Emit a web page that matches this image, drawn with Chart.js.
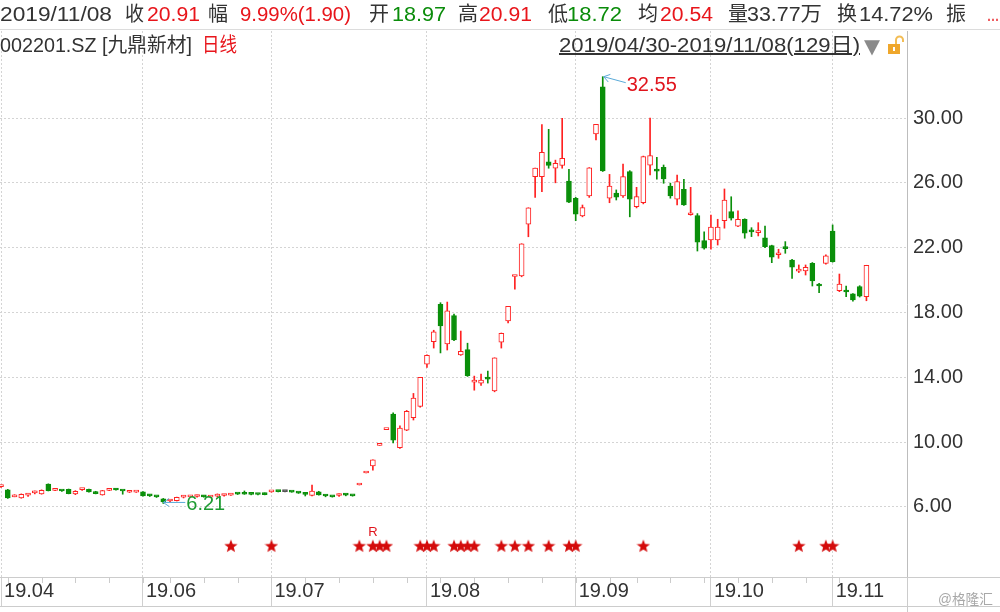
<!DOCTYPE html>
<html>
<head>
<meta charset="utf-8">
<script src="https://cdn.jsdelivr.net/npm/chart.js@4.4.1/dist/chart.umd.min.js"></script>
<style>
  body { margin: 0; background: #fff; }
  #wrap { position: relative; width: 1000px; height: 612px; overflow: hidden;
          font-family: "Liberation Sans", "Noto Sans CJK SC", sans-serif; }
  #wrap canvas { position: absolute; left: 0; top: 0; }
  .t { position: absolute; font-size: 20px; line-height: 20px; white-space: nowrap; color: #333;
       transform-origin: 0 50%; }
  .r { color: #e8151b; }
  .g { color: #0a8c0a; }
  #sep { position: absolute; left: 0; top: 29px; width: 1000px; height: 1px; background: #dcdcdc; }
</style>
</head>
<body>
<div id="wrap">
  <canvas id="c" width="1000" height="612"></canvas>
  <div id="sep"></div>

  <!-- 第一行：当日行情 -->
  <div class="t" style="left:0;top:4px" data-w="112">2019/11/08</div>
  <div class="t" style="left:125px;top:4px" data-w="19">收</div>
  <div class="t r" style="left:147px;top:4px" data-w="53">20.91</div>
  <div class="t" style="left:208px;top:4px" data-w="20">幅</div>
  <div class="t r" style="left:240px;top:4px" data-w="111">9.99%(1.90)</div>
  <div class="t" style="left:369px;top:4px" data-w="20">开</div>
  <div class="t g" style="left:392px;top:4px" data-w="54">18.97</div>
  <div class="t" style="left:458px;top:4px" data-w="20">高</div>
  <div class="t r" style="left:479px;top:4px" data-w="53">20.91</div>
  <div class="t" style="left:548px;top:4px" data-w="20">低</div>
  <div class="t g" style="left:567px;top:4px" data-w="55">18.72</div>
  <div class="t" style="left:638px;top:4px" data-w="20">均</div>
  <div class="t r" style="left:660px;top:4px" data-w="53">20.54</div>
  <div class="t" style="left:728px;top:4px" data-w="20">量</div>
  <div class="t" style="left:747px;top:4px" data-w="75">33.77万</div>
  <div class="t" style="left:837px;top:4px" data-w="20">换</div>
  <div class="t" style="left:859px;top:4px" data-w="74">14.72%</div>
  <div class="t" style="left:946px;top:4px" data-w="20">振</div>
  <div class="t r" style="left:987px;top:4px" data-w="12">...</div>

  <!-- 第二行：代码 + 区间 -->
  <div class="t" style="left:0;top:35px" data-w="192">002201.SZ [九鼎新材]</div>
  <div class="t r" style="left:202px;top:35px" data-w="35">日线</div>
  <div class="t" style="left:559px;top:35px;text-decoration:underline" data-w="301">2019/04/30-2019/11/08(129日)</div>
  <div class="t" style="left:864px;top:36px;color:#8a8a8a;font-family:'DejaVu Sans'" data-w="16">▼</div>
  <svg style="position:absolute;left:886px;top:33px" width="18" height="22">
    <path d="M10 11 V7 a3.5 3.5 0 0 1 7 0 V9" fill="none" stroke="#f3bd55" stroke-width="2"/>
    <rect x="2" y="11" width="12" height="10" fill="#efa72c"/>
    <rect x="7" y="14" width="2" height="4" fill="#fff"/>
  </svg>

  <div class="t" style="left:938px;top:592px;font-size:14px;line-height:14px;color:#a8a8a8" data-w="55">@格隆汇</div>
</div>

<script>
// 日K数据 2019/04/30 - 2019/11/08 (129 个交易日)
const opens = [
  7.25, 7.05, 6.62, 6.55, 6.72, 6.86, 6.80, 7.40, 7.02, 7.00,
  7.08, 6.80, 7.06, 7.08, 6.94, 6.74, 7.02, 7.08, 7.00, 6.90,
  6.91, 6.92, 6.70, 6.64, 6.50, 6.36, 6.38, 6.60, 6.62, 6.64,
  6.66, 6.60, 6.66, 6.70, 6.72, 6.82, 6.80, 6.79, 6.78, 6.76,
  6.92, 6.96, 6.94, 6.93, 6.88, 6.80, 6.70, 6.92, 6.70, 6.64,
  6.70, 6.74, 6.70, 7.35, 8.09, 8.52, 9.79, 10.77, 11.73, 9.65,
  10.74, 11.50, 12.20, 14.80, 16.20, 18.50, 16.05, 17.80, 15.37, 15.70,
  13.70, 13.64, 13.95, 13.15, 16.17, 17.47, 20.22, 20.25, 23.44, 26.38,
  26.38, 27.30, 26.90, 27.08, 26.11, 25.04, 23.95, 25.19, 29.02, 31.93,
  25.05, 25.36, 25.19, 26.69, 24.53, 24.78, 27.09, 26.80, 26.96, 25.80,
  24.99, 25.60, 24.03, 23.98, 22.43, 22.48, 22.48, 23.66, 24.22, 23.33,
  23.75, 23.02, 22.93, 22.61, 22.12, 21.56, 22.00, 21.23, 20.55, 20.56,
  21.03, 19.68, 21.03, 23.02, 19.35, 19.32, 19.14, 19.60, 18.97
];
const highs = [
  7.30, 7.08, 6.75, 6.80, 6.82, 6.98, 7.05, 7.42, 7.08, 7.02,
  7.10, 7.00, 7.12, 7.10, 6.96, 7.02, 7.08, 7.12, 7.00, 6.95,
  6.96, 6.94, 6.75, 6.66, 6.52, 6.42, 6.60, 6.70, 6.70, 6.72,
  6.70, 6.68, 6.80, 6.78, 6.82, 6.84, 6.98, 6.80, 6.80, 6.86,
  6.98, 6.98, 6.96, 6.95, 6.90, 6.85, 7.35, 6.96, 6.74, 6.66,
  6.80, 6.80, 6.72, 7.35, 8.09, 8.90, 9.79, 10.77, 11.80, 11.00,
  11.95, 13.00, 13.99, 15.39, 16.90, 18.60, 18.64, 17.90, 16.85, 16.10,
  14.07, 14.20, 14.38, 15.20, 16.73, 18.38, 20.22, 22.24, 24.46, 26.91,
  29.60, 29.30, 27.40, 29.98, 26.83, 25.10, 24.63, 26.94, 29.61, 32.55,
  26.52, 25.56, 27.16, 26.75, 25.72, 27.65, 29.99, 27.57, 27.10, 25.98,
  26.48, 26.22, 25.72, 24.10, 22.98, 24.01, 23.75, 25.62, 25.14, 24.27,
  23.78, 23.23, 23.54, 23.33, 22.15, 21.90, 22.37, 21.28, 20.93, 20.93,
  21.08, 19.80, 21.55, 23.40, 20.37, 19.63, 19.16, 19.65, 20.91
];
const lows = [
  7.20, 6.52, 6.62, 6.53, 6.65, 6.80, 6.78, 6.98, 7.00, 6.95,
  6.80, 6.75, 7.02, 6.90, 6.80, 6.72, 7.00, 7.03, 6.78, 6.88,
  6.89, 6.66, 6.64, 6.58, 6.21, 6.30, 6.36, 6.55, 6.60, 6.60,
  6.60, 6.56, 6.60, 6.66, 6.70, 6.76, 6.77, 6.74, 6.74, 6.74,
  6.90, 6.92, 6.92, 6.90, 6.83, 6.67, 6.68, 6.72, 6.62, 6.60,
  6.65, 6.68, 6.66, 7.35, 8.09, 8.27, 9.79, 10.77, 9.94, 9.60,
  10.70, 11.36, 12.15, 14.60, 15.80, 15.50, 15.68, 16.25, 15.35, 14.05,
  13.20, 13.50, 13.64, 13.10, 15.80, 17.35, 19.44, 20.20, 22.67, 25.10,
  25.46, 26.90, 26.00, 26.90, 24.78, 23.66, 23.90, 25.10, 28.64, 26.70,
  24.77, 24.94, 25.10, 23.90, 24.45, 24.70, 26.48, 26.23, 25.97, 25.05,
  24.63, 24.60, 24.00, 21.79, 21.90, 21.91, 22.16, 23.20, 23.70, 23.30,
  22.58, 22.68, 22.72, 22.00, 21.07, 21.34, 21.65, 20.10, 20.46, 20.31,
  19.63, 19.22, 20.98, 21.10, 19.28, 18.97, 18.70, 18.95, 18.72
];
const closes = [
  7.28, 6.55, 6.64, 6.78, 6.75, 6.90, 7.02, 7.00, 7.04, 6.98,
  6.82, 6.95, 7.08, 6.92, 6.82, 7.00, 7.04, 7.04, 6.98, 6.92,
  6.93, 6.68, 6.68, 6.62, 6.30, 6.38, 6.58, 6.63, 6.65, 6.66,
  6.62, 6.63, 6.70, 6.72, 6.80, 6.79, 6.78, 6.77, 6.76, 6.75,
  6.96, 6.94, 6.94, 6.91, 6.85, 6.77, 6.98, 6.74, 6.67, 6.62,
  6.73, 6.72, 6.68, 7.35, 8.09, 8.90, 9.79, 10.77, 10.12, 10.86,
  11.90, 12.72, 13.99, 15.35, 16.80, 17.16, 18.10, 16.30, 15.60, 14.10,
  13.74, 13.82, 13.88, 15.19, 16.71, 18.38, 20.22, 22.24, 24.46, 26.91,
  27.88, 27.08, 27.20, 27.51, 24.80, 24.07, 24.47, 26.92, 29.61, 26.73,
  25.80, 25.11, 26.38, 24.99, 25.15, 27.62, 27.68, 26.72, 26.24, 25.19,
  26.07, 24.63, 24.08, 22.33, 21.96, 23.26, 23.26, 24.94, 23.81, 23.75,
  22.89, 22.97, 22.98, 22.06, 21.41, 21.60, 21.94, 20.79, 20.60, 20.79,
  19.94, 19.63, 21.50, 21.13, 19.75, 19.26, 18.77, 19.01, 20.91
];

// 月份刻度（交易日序号）和标签
const monthStart = [0, 21, 40, 63, 85, 105, 123];
const monthLabels = ['19.04', '19.06', '19.07', '19.08', '19.09', '19.10', '19.11'];
// 每周一的小刻度
const weekStart = [1, 6, 11, 16, 21, 25, 30, 35, 40, 45, 50, 55, 60, 65, 70, 75, 80,
                   85, 90, 94, 99, 104, 109, 114, 119, 124];
const yTicks = [6, 10, 14, 18, 22, 26, 30];
// 信号星标所在的交易日
const starDays = [34, 40, 53, 55, 56, 57, 62, 63, 64, 67, 68, 69, 70, 74, 76, 78, 81, 84, 85,
                  95, 118, 122, 123];
const rDay = 55;

const RED = '#ff2121', GREEN = '#0a8f0a', GRAY = '#555555';
const STAR_Y = 3.6; // 星标所在的价格高度

function candleColor(i) {
    const o = opens[i], c = closes[i];
    if (c > o) return RED;
    if (c < o) return GREEN;
    const p = i > 0 ? closes[i - 1] : o;
    return c > p ? RED : (c < p ? GREEN : GRAY);
}
const colors = opens.map((o, i) => candleColor(i));
const fills = opens.map((o, i) => colors[i] === RED ? '#ffffff' : colors[i]);

const bodies = opens.map((o, i) => ({ x: i, y: [Math.min(o, closes[i]), Math.max(o, closes[i])] }));
const wicks = opens.map((o, i) => ({ x: i, y: [lows[i], highs[i]] }));

// 实心五角星做点样式
function makeStar(size, color) {
    const cv = document.createElement('canvas');
    cv.width = cv.height = size;
    const g = cv.getContext('2d');
    const cx = size / 2, cy = size / 2 + 0.7, R = size / 2, r = R * 0.42;
    g.beginPath();
    for (let k = 0; k < 10; k++) {
        const a = -Math.PI / 2 + k * Math.PI / 5;
        const rr = k % 2 ? r : R;
        g.lineTo(cx + rr * Math.cos(a), cy + rr * Math.sin(a));
    }
    g.closePath();
    g.fillStyle = color;
    g.fill();
    return cv;
}
const star = makeStar(14, '#d40b0b');

function arrow(ctx, x0, y0, x1, y1) {
    const ang = Math.atan2(y1 - y0, x1 - x0);
    ctx.strokeStyle = '#5aaad8';
    ctx.lineWidth = 1;
    ctx.beginPath();
    ctx.moveTo(x1, y1);
    ctx.lineTo(x0, y0);
    [-1, 1].forEach(s => {
        ctx.moveTo(x0, y0);
        ctx.lineTo(x0 + 7 * Math.cos(ang + s * 0.6), y0 + 7 * Math.sin(ang + s * 0.6));
    });
    ctx.stroke();
}

// 最高/最低标注、R 标记、边框线、周刻度
const notes = {
    id: 'notes',
    afterDraw(chart) {
        const { ctx, chartArea: a } = chart;
        const x = chart.scales.x, y = chart.scales.y;
        ctx.save();

        const iHi = highs.indexOf(Math.max(...highs));
        const hx = x.getPixelForValue(iHi), hy = y.getPixelForValue(highs[iHi]);
        arrow(ctx, hx + 1, hy, hx + 23, hy + 6);
        ctx.font = '20px "Liberation Sans"';
        ctx.textAlign = 'left';
        ctx.textBaseline = 'middle';
        ctx.fillStyle = '#e0141c';
        ctx.fillText(highs[iHi].toFixed(2), hx + 24, hy + 9);

        const iLo = lows.indexOf(Math.min(...lows));
        const lx = x.getPixelForValue(iLo), ly = y.getPixelForValue(lows[iLo]) - 1;
        arrow(ctx, lx, ly, lx + 22, ly);
        ctx.fillStyle = '#1c9a30';
        ctx.fillText(lows[iLo].toFixed(2), lx + 23, ly + 2);

        ctx.font = '13px "Liberation Sans"';
        ctx.textAlign = 'center';
        ctx.fillStyle = '#e0141c';
        ctx.fillText('R', x.getPixelForValue(rDay), y.getPixelForValue(STAR_Y) - 13);

        ctx.strokeStyle = '#cccccc';
        ctx.lineWidth = 1;
        ctx.beginPath();
        ctx.moveTo(a.right, a.bottom + 0.5); ctx.lineTo(1000, a.bottom + 0.5);
        ctx.moveTo(0, a.bottom + 29.5); ctx.lineTo(1000, a.bottom + 29.5);
        ctx.moveTo(a.right + 0.5, a.bottom); ctx.lineTo(a.right + 0.5, 612);
        weekStart.forEach(d => {
            const px = Math.round(x.getPixelForValue(d)) + 0.5;
            ctx.moveTo(px, a.bottom); ctx.lineTo(px, a.bottom + 6);
        });
        ctx.stroke();
        ctx.restore();
    }
};

Chart.defaults.font.family = '"Liberation Sans", Arial, sans-serif';

new Chart(document.getElementById('c'), {
    type: 'bar',
    data: {
        datasets: [
            { type: 'scatter', data: starDays.map(d => ({ x: d, y: STAR_Y })), pointStyle: star,
              pointRadius: 6, order: 0 },
            { data: bodies, backgroundColor: fills, borderColor: colors, borderWidth: 1,
              borderSkipped: false, barThickness: 5, minBarLength: 2, grouped: false, order: 1 },
            { data: wicks, backgroundColor: colors, borderWidth: 0, barThickness: 1,
              grouped: false, order: 2 }
        ]
    },
    options: {
        responsive: false,
        animation: false,
        events: [],
        layout: { autoPadding: false, padding: { top: 31, left: 0, right: 0, bottom: 0 } },
        plugins: { legend: { display: false }, tooltip: { enabled: false } },
        scales: {
            x: {
                type: 'linear', min: -0.15, max: 134, bounds: 'data', offset: false,
                afterBuildTicks: s => { s.ticks = monthStart.map(v => ({ value: v })); },
                afterFit: s => { s.height = 35; },
                grid: { offset: false, color: '#d4d4d4', tickColor: '#d0d0d0', tickLength: 30 },
                border: { color: '#cccccc', dash: [2, 2] },
                ticks: {
                    autoSkip: false, maxRotation: 0, align: 'start', labelOffset: 3, padding: -28,
                    color: '#333', font: { size: 20 },
                    callback: v => monthLabels[monthStart.indexOf(v)] || ''
                }
            },
            y: {
                position: 'right', min: 1.67, max: 35.37, bounds: 'data', beginAtZero: false,
                afterBuildTicks: s => { s.ticks = yTicks.map(v => ({ value: v })); },
                afterFit: s => { s.width = 93; },
                grid: { color: '#d4d4d4', drawTicks: false },
                border: { color: '#bdbdbd', dash: [2, 2] },
                ticks: { padding: 6, color: '#333', font: { size: 20 }, callback: v => v.toFixed(2) }
            }
        }
    },
    plugins: [notes]
});

// 表头文字按原图宽度微调
document.querySelectorAll('.t[data-w]').forEach(el => {
    const w = +el.dataset.w;
    const real = el.getBoundingClientRect().width;
    if (real > 0) el.style.transform = `scaleX(${w / real})`;
});
</script>
</body>
</html>
